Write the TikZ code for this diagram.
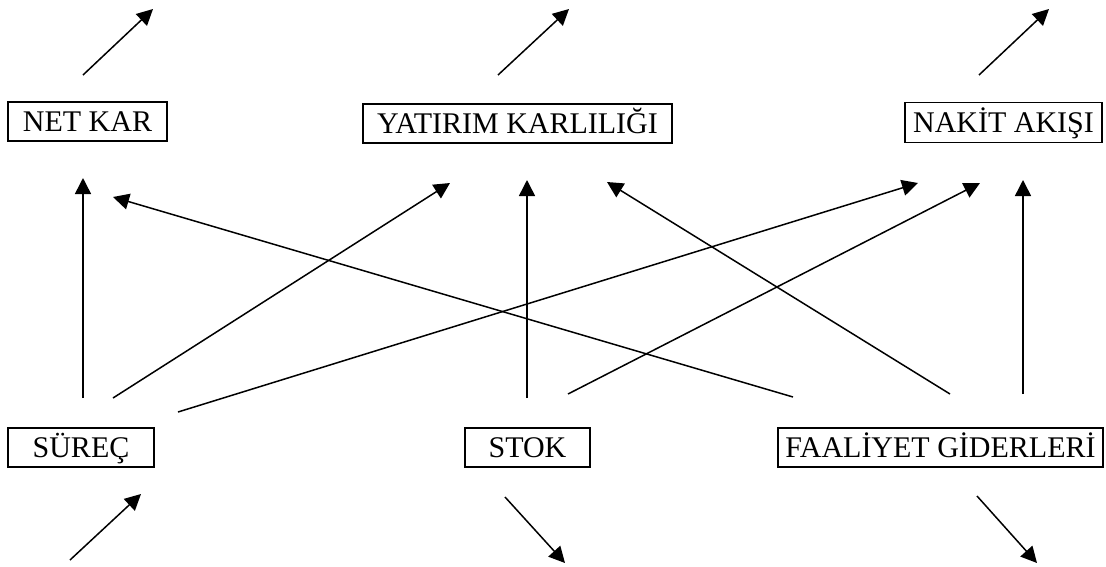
\documentclass[tikz,border=0pt]{standalone}
\usepackage{fontspec}
\setmainfont{Liberation Serif}
\usetikzlibrary{arrows.meta}
\begin{document}
\begin{tikzpicture}[x=1pt,y=-1pt,
  box/.style={draw,line width=1.4pt,inner sep=0pt,minimum height=39pt,
    text height=20.5pt,text depth=0pt,font=\fontsize{30}{35}\selectfont},
  arr/.style={line width=1.5pt,-{Triangle[length=16pt,width=16pt]}}]
\useasboundingbox (0,0) rectangle (1106,566);
% measures
\node[box,minimum width=159pt] (netkar) at (87.5,121.5) {NET KAR};
\node[box,minimum width=309pt] (yatirim) at (517.5,123.5) {YATIRIM KARLILIĞI};
\node[box,minimum width=197pt,minimum height=40pt] (nakit) at (1003.5,122.5) {NAKİT AKIŞI};
% drivers
\node[box,minimum width=146pt] (surec) at (81,447.5) {SÜREÇ};
\node[box,minimum width=125pt] (stok) at (527.5,447.5) {STOK};
\node[box,minimum width=325pt] (faal) at (940.5,447.5) {FAALİYET GİDERLERİ};
% free arrow ends
\coordinate (n1) at (83,75);   \coordinate (n2) at (153,9);
\coordinate (y1) at (498,75);  \coordinate (y2) at (569,9);
\coordinate (k1) at (979,75);  \coordinate (k2) at (1049,9);
\coordinate (s1) at (70,560);  \coordinate (s2) at (141,494);
\coordinate (t1) at (505,497); \coordinate (t2) at (565,563);
\coordinate (f1) at (977,496); \coordinate (f2) at (1037,563);
% connector ends
\coordinate (sa) at (83,398);   \coordinate (na) at (83,178);
\coordinate (sb) at (113,398);  \coordinate (ya) at (450,183);
\coordinate (sc) at (178,412);  \coordinate (ka) at (918,183);
\coordinate (ta) at (527,398);  \coordinate (yb) at (527,180);
\coordinate (tb) at (568,394);  \coordinate (kb) at (980,183);
\coordinate (fa) at (793,397);  \coordinate (nb) at (113,197);
\coordinate (fb) at (950,394);  \coordinate (yc) at (607,182);
\coordinate (fc) at (1023,394); \coordinate (kc) at (1023,180);
% outer arrows
\draw[arr] (n1) -- (n2);
\draw[arr] (y1) -- (y2);
\draw[arr] (k1) -- (k2);
\draw[arr] (s1) -- (s2);
\draw[arr] (t1) -- (t2);
\draw[arr] (f1) -- (f2);
% links
\draw[arr] (sa) -- (na);
\draw[arr] (sb) -- (ya);
\draw[arr] (sc) -- (ka);
\draw[arr] (ta) -- (yb);
\draw[arr] (tb) -- (kb);
\draw[arr] (fa) -- (nb);
\draw[arr] (fb) -- (yc);
\draw[arr] (fc) -- (kc);
\end{tikzpicture}
\end{document}
